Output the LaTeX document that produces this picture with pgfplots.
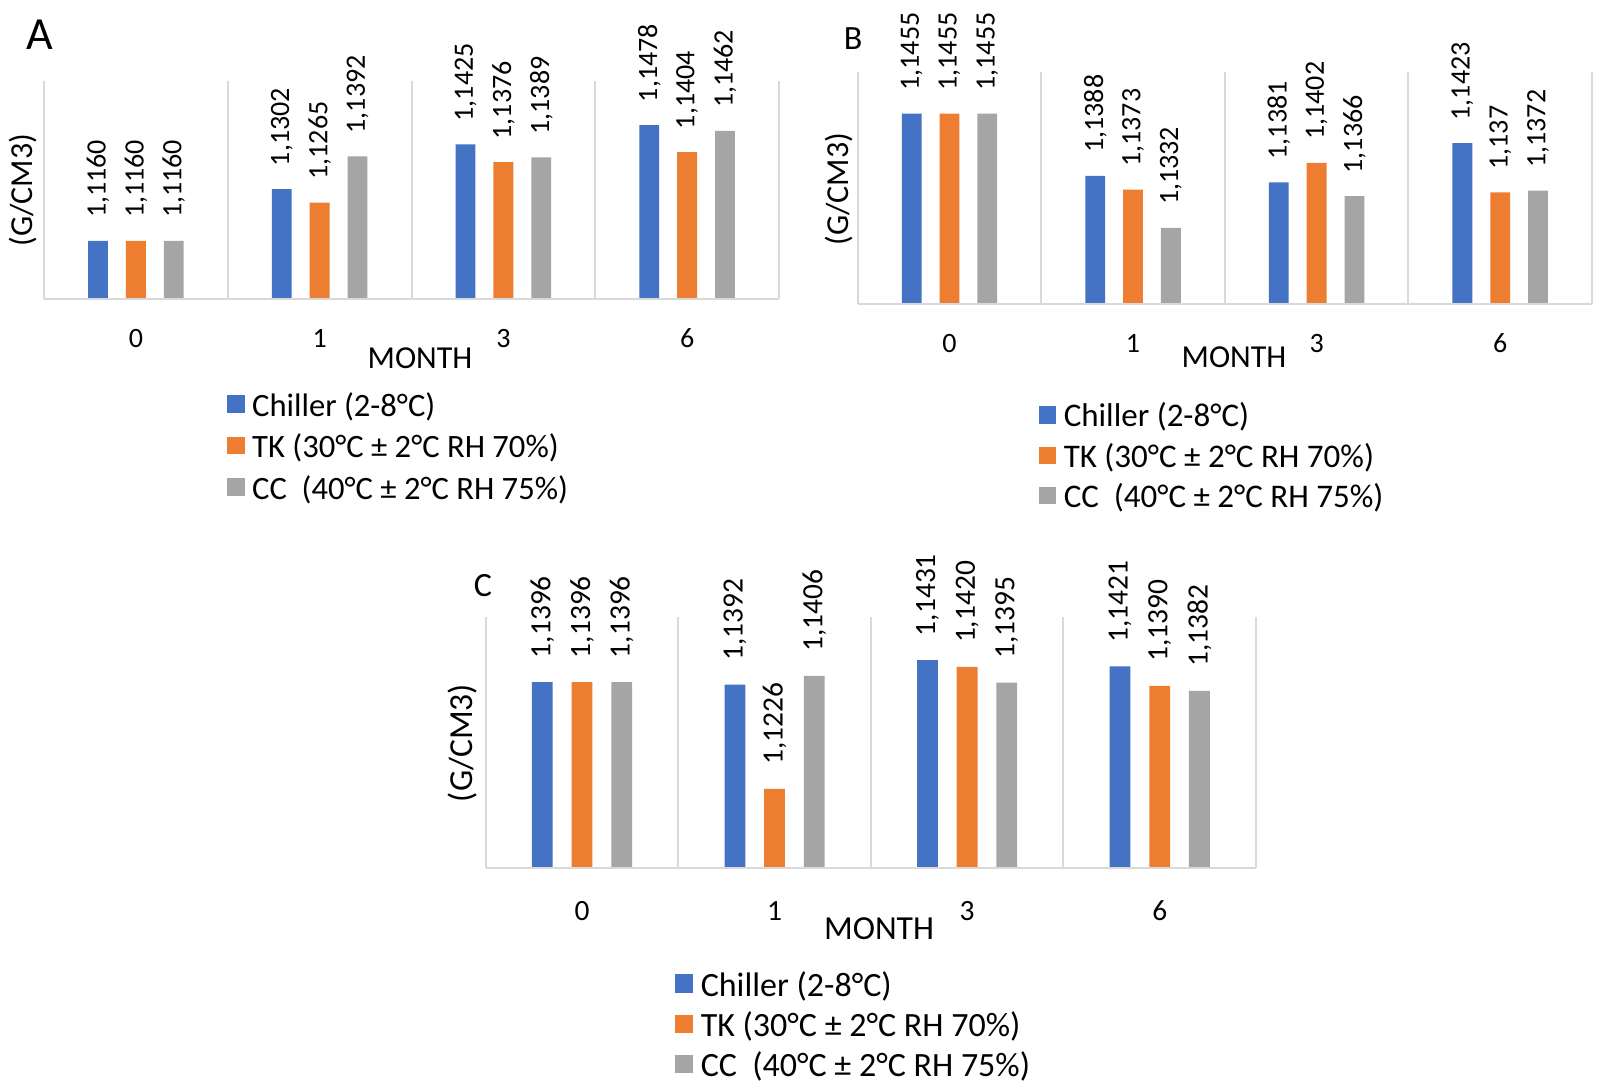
\documentclass[border=0pt]{standalone}
\usepackage{pgfplots}
\pgfplotsset{compat=1.18}
\usepackage{pgfplotstable}
\usepackage{fontspec}
\setmainfont{Carlito}
\definecolor{cblue}{HTML}{4472C4}
\definecolor{corange}{HTML}{ED7D31}
\definecolor{cgray}{HTML}{A5A5A5}
\definecolor{gridc}{HTML}{D9D9D9}
\newcommand\fsz[1]{\fontsize{#1}{#1}\selectfont}

\pgfplotstableread{
x c cl t tl g gl
0 1.1160 1,1160 1.1160 1,1160 1.1160 1,1160
1 1.1302 1,1302 1.1265 1,1265 1.1392 1,1392
2 1.1425 1,1425 1.1376 1,1376 1.1389 1,1389
3 1.1478 1,1478 1.1404 1,1404 1.1462 1,1462
}\dataA
\pgfplotstableread{
x c cl t tl g gl
0 1.1455 1,1455 1.1455 1,1455 1.1455 1,1455
1 1.1388 1,1388 1.1373 1,1373 1.1332 1,1332
2 1.1381 1,1381 1.1402 1,1402 1.1366 1,1366
3 1.1423 1,1423 1.1370 1,137 1.1372 1,1372
}\dataB
\pgfplotstableread{
x c cl t tl g gl
0 1.1396 1,1396 1.1396 1,1396 1.1396 1,1396
1 1.1392 1,1392 1.1226 1,1226 1.1406 1,1406
2 1.1431 1,1431 1.1420 1,1420 1.1395 1,1395
3 1.1421 1,1421 1.1390 1,1390 1.1382 1,1382
}\dataC

\pgfplotsset{
  excel/.style={
    scale only axis, anchor=south west,
    xmin=-0.5, xmax=3.5, enlargelimits=false,
    ybar, bar width=0.108,
    xtick={0,1,2,3}, xticklabels={0,1,3,6},
    minor xtick={-0.5,0.5,1.5,2.5,3.5},
    xminorgrids=true, xmajorgrids=false,
    minor grid style={draw=gridc, line width=1pt},
    ytick=\empty,
    major tick length=0pt, minor tick length=0pt,
    axis line style={draw=none},
    clip=false,
    point meta=explicit symbolic,
    nodes near coords,
    xlabel={MONTH}, ylabel={(G/CM3)},
    legend cell align=left,
    after end axis/.code={\draw[gridc, line width=1.3pt] (rel axis cs:0,0) -- (rel axis cs:1,0);},
  },
}

\begin{document}
\begin{tikzpicture}
\useasboundingbox (0,0) rectangle (800pt,542pt);

% ---------- A ----------
\begin{axis}[excel,
  at={(22pt,392.5pt)}, width=367.5pt, height=109.15pt,
  ymin=1.10, ymax=1.16,
  every node near coord/.append style={rotate=90, anchor=west, inner xsep=11.3pt, inner ysep=0pt, font=\fsz{14}, text=black},
  xticklabel style={font=\fsz{14}, anchor=base, yshift=-24.4pt},
  xlabel style={at={(axis description cs:0.5116,-0.2703)}, anchor=center, font=\fsz{16}},
  ylabel style={at={(axis description cs:-0.0286,0.4993)}, anchor=center, font=\fsz{16}},
  legend image code/.code={\fill[#1] (0pt,-2.4pt) rectangle (8.8pt,6.4pt);},
  legend style={at={(axis description cs:0.2486,-0.4250)}, anchor=north west, draw=none, fill=none, inner sep=0pt, font=\fsz{16.3}, row sep=4.75pt, column sep=3.75pt, nodes={inner sep=0pt, text height=12pt, text depth=4pt}},
]
\addplot[fill=cblue, draw=none, bar shift=-0.206] table[x=x, y=c, meta=cl] {\dataA};
\addplot[fill=corange, draw=none, bar shift=0] table[x=x, y=t, meta=tl] {\dataA};
\addplot[fill=cgray, draw=none, bar shift=0.206] table[x=x, y=g, meta=gl] {\dataA};
\legend{Chiller (2-8°C), TK (30°C ± 2°C RH 70\%), CC\ \ (40°C ± 2°C RH 75\%)}
\end{axis}

% ---------- B ----------
\begin{axis}[excel,
  at={(428.85pt,390pt)}, width=367.15pt, height=116.15pt,
  ymin=1.125, ymax=1.15,
  every node near coord/.append style={rotate=90, anchor=west, inner xsep=11.3pt, inner ysep=0pt, font=\fsz{14}, text=black},
  xticklabel style={font=\fsz{14}, anchor=base, yshift=-24.2pt},
  xlabel style={at={(axis description cs:0.5125,-0.2282)}, anchor=center, font=\fsz{16}},
  ylabel style={at={(axis description cs:-0.0255,0.4950)}, anchor=center, font=\fsz{16}},
  legend image code/.code={\fill[#1] (0pt,-2.4pt) rectangle (8.8pt,6.4pt);},
  legend style={at={(axis description cs:0.2459,-0.4240)}, anchor=north west, draw=none, fill=none, inner sep=0pt, font=\fsz{16.5}, row sep=4.2pt, column sep=3.75pt, nodes={inner sep=0pt, text height=12pt, text depth=4pt}},
]
\addplot[fill=cblue, draw=none, bar shift=-0.206] table[x=x, y=c, meta=cl] {\dataB};
\addplot[fill=corange, draw=none, bar shift=0] table[x=x, y=t, meta=tl] {\dataB};
\addplot[fill=cgray, draw=none, bar shift=0.206] table[x=x, y=g, meta=gl] {\dataB};
\legend{Chiller (2-8°C), TK (30°C ± 2°C RH 70\%), CC\ \ (40°C ± 2°C RH 75\%)}
\end{axis}

% ---------- C ----------
\begin{axis}[excel,
  at={(242.85pt,108pt)}, width=385.15pt, height=125.65pt,
  ymin=1.11, ymax=1.15,
  every node near coord/.append style={rotate=90, anchor=west, inner xsep=11.8pt, inner ysep=0pt, font=\fsz{14.7}, text=black},
  xticklabel style={font=\fsz{14.7}, anchor=base, yshift=-26.1pt},
  xlabel style={at={(axis description cs:0.5106,-0.2427)}, anchor=center, font=\fsz{16.8}},
  ylabel style={at={(axis description cs:-0.0295,0.4974)}, anchor=center, font=\fsz{16.8}},
  legend image code/.code={\fill[#1] (0pt,-2.6pt) rectangle (9.3pt,6.7pt);},
  legend style={at={(axis description cs:0.2448,-0.4090)}, anchor=north west, draw=none, fill=none, inner sep=0pt, font=\fsz{17}, row sep=3.4pt, column sep=3.75pt, nodes={inner sep=0pt, text height=12.5pt, text depth=4.2pt}},
]
\addplot[fill=cblue, draw=none, bar shift=-0.206] table[x=x, y=c, meta=cl] {\dataC};
\addplot[fill=corange, draw=none, bar shift=0] table[x=x, y=t, meta=tl] {\dataC};
\addplot[fill=cgray, draw=none, bar shift=0.206] table[x=x, y=g, meta=gl] {\dataC};
\legend{Chiller (2-8°C), TK (30°C ± 2°C RH 70\%), CC\ \ (40°C ± 2°C RH 75\%)}
\end{axis}

\node[font=\fsz{23}] at (20pt,524.85pt) {A};
\node[font=\fsz{17}] at (426.5pt,522.5pt) {B};
\node[font=\fsz{17}] at (241.5pt,249pt) {C};
\end{tikzpicture}
\end{document}
